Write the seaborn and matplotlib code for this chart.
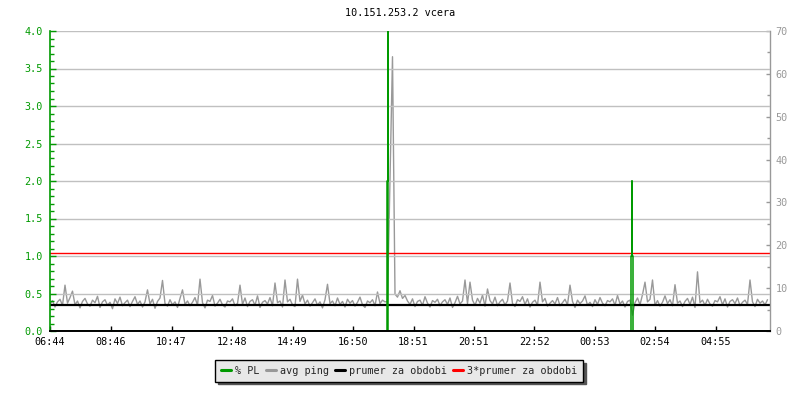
import matplotlib
matplotlib.use('Agg')
import matplotlib.pyplot as plt
import numpy as np
import pandas as pd
import seaborn as sns
from matplotlib.ticker import MultipleLocator, FixedLocator

sns.set_theme(style='white')
plt.rcParams['font.family'] = ['DejaVu Sans Mono']

# Time axis: minutes since 06:44, one ping sample every 5 minutes
tick_minutes = [0, 122, 243, 364, 485, 606, 727, 847, 968, 1089, 1210, 1331]
tick_labels = ['06:44', '08:46', '10:47', '12:48', '14:49', '16:50',
               '18:51', '20:51', '22:52', '00:53', '02:54', '04:55']

# avg ping [ms] (hour per row)
avg_ping = [
    6.2, 7.1, 5.6, 6.8, 7.4, 6.0, 10.7, 6.5, 7.8, 9.3, 6.1, 7.0,
    5.4, 6.9, 7.6, 6.3, 5.8, 7.2, 6.6, 8.1, 5.5, 6.8, 7.3, 6.0,
    6.7, 5.2, 7.5, 6.4, 7.9, 5.9, 6.6, 7.2, 5.7, 6.9, 8.0, 6.2,
    7.0, 5.6, 6.8, 9.6, 6.3, 7.4, 5.3, 6.9, 7.7, 11.8, 6.4, 5.8,
    7.3, 6.1, 6.8, 5.5, 7.6, 9.6, 6.2, 7.0, 5.9, 6.7, 7.8, 6.0,
    12.1, 6.6, 5.4, 7.2, 6.9, 8.3, 5.8, 6.5, 7.4, 6.1, 5.6, 7.0,
    6.8, 7.5, 5.9, 6.4, 10.7, 6.2, 7.7, 5.7, 6.9, 7.3, 6.0, 8.2,
    5.5, 6.7, 7.1, 6.3, 7.8, 5.9, 11.2, 6.6, 7.0, 5.6, 11.9, 6.8,
    7.4, 6.1, 5.7, 12.1, 6.9, 8.4, 6.3, 7.2, 5.8, 6.6, 7.5, 6.0,
    6.8, 5.4, 7.3, 10.9, 6.4, 7.0, 5.9, 7.7, 6.2, 6.9, 5.6, 7.4,
    6.5, 7.1, 5.8, 6.7, 7.9, 6.1, 5.5, 7.0, 6.6, 7.3, 5.9, 9.1,
    6.4, 7.2, 6.8, 6.9, 35.0, 64.0, 8.6, 7.9, 9.4, 7.6, 8.3, 7.0,
    6.2, 7.5, 5.7, 6.9, 7.2, 6.0, 8.0, 6.5, 5.6, 7.1, 6.7, 7.4,
    5.9, 6.8, 7.3, 6.2, 7.7, 5.5, 6.6, 8.1, 6.3, 7.0, 11.9, 6.4,
    11.4, 7.2, 6.0, 7.6, 6.5, 8.4, 5.8, 9.8, 7.1, 6.3, 7.9, 5.9,
    6.8, 7.4, 6.1, 7.0, 11.2, 6.4, 5.7, 7.3, 6.9, 8.0, 6.2, 7.5,
    5.6, 6.7, 7.2, 6.0, 11.4, 6.8, 7.6, 5.8, 6.5, 7.1, 6.3, 7.8,
    5.9, 6.6, 7.4, 6.1, 10.7, 6.9, 5.5, 7.2, 6.4, 7.0, 8.2, 6.0,
    6.7, 5.7, 7.3, 6.2, 7.8, 6.5, 5.9, 7.1, 6.8, 7.5, 6.0, 8.3,
    6.3, 7.0, 5.6, 6.9, 7.2, 3.7, 6.6, 7.7, 6.1, 8.5, 11.4, 6.8,
    7.4, 11.9, 6.0, 7.1, 5.8, 6.7, 8.2, 6.4, 7.3, 5.9, 10.8, 6.5,
    7.0, 5.7, 6.9, 7.6, 6.2, 7.9, 5.5, 13.8, 6.6, 7.2, 6.0, 7.4,
    6.3, 5.8, 7.1, 6.8, 8.0, 6.1, 7.5, 5.6, 6.9, 7.3, 6.4, 7.7,
    5.9, 6.7, 7.2, 6.2, 11.9, 6.8, 5.7, 7.4, 6.5, 7.0, 6.1, 7.3,
]
ping_minutes = np.arange(len(avg_ping)) * 5

# packet loss [%] - only the non-zero minutes
pl_minutes = [673, 674, 675, 676, 677, 1162, 1163, 1164, 1165, 1166, 1167]
pl_values = [0.0, 2.0, 2.0, 4.0, 0.0, 0.0, 1.0, 2.0, 1.0, 1.0, 0.0]

period_avg = 6.1  # prumer za obdobi [ms]

green = '#009a00'
grey = '#999999'

df_ping = pd.DataFrame({'min': ping_minutes, 'ping': avg_ping})
df_pl = pd.DataFrame({'min': [0] + pl_minutes + [1440],
                      'pl': [0.0] + pl_values + [0.0]})

fig, ax = plt.subplots(figsize=(8, 4), dpi=100)
fig.subplots_adjust(left=0.0625, right=0.9625, top=0.9225, bottom=0.1725)
ax2 = ax.twinx()
ax.set_zorder(2)
ax.patch.set_visible(False)
ax2.set_zorder(1)

# right axis: ping
sns.lineplot(data=df_ping, x='min', y='ping', ax=ax2, color=grey, lw=1.0,
             label='avg ping', legend=False)
ax2.axhline(period_avg, color='black', lw=1.6, label='prumer za obdobi')
ax2.axhline(3 * period_avg, color='red', lw=1.0, label='3*prumer za obdobi')
ax2.set_ylim(0, 70)
ax2.yaxis.set_major_locator(MultipleLocator(10))
ax2.yaxis.set_minor_locator(MultipleLocator(5))
ax2.tick_params(axis='y', which='both', direction='in', colors=grey,
                labelsize=7.3, pad=4)
ax2.tick_params(axis='y', which='major', length=3, width=1)
ax2.tick_params(axis='y', which='minor', length=2.5, width=1, right=True)
ax2.set_ylabel('')
for s in ['left', 'top', 'bottom']:
    ax2.spines[s].set_visible(False)
ax2.spines['right'].set_color(grey)
ax2.spines['right'].set_linewidth(1)

# left axis: packet loss
sns.lineplot(data=df_pl, x='min', y='pl', ax=ax, color=green, lw=1.1,
             drawstyle='steps-mid', label='% PL', legend=False)
ax.set_xlim(0, 1440)
ax.set_ylim(0, 4.0)
ax.yaxis.set_major_locator(MultipleLocator(0.5))
ax.yaxis.set_minor_locator(MultipleLocator(0.1))
ax.yaxis.set_major_formatter(matplotlib.ticker.FormatStrFormatter('%.1f'))
ax.grid(axis='y', which='major', color='#c0c0c0', lw=1)
ax.tick_params(axis='y', which='both', direction='in', colors=green,
               labelsize=7.3, pad=5, left=True)
ax.tick_params(axis='y', which='major', length=4, width=1)
ax.tick_params(axis='y', which='minor', length=3, width=1)
ax.xaxis.set_major_locator(FixedLocator(tick_minutes))
ax.set_xticklabels(tick_labels)
ax.tick_params(axis='x', direction='in', length=3.5, width=1, colors='black',
               labelsize=7.3, pad=4, bottom=True)
ax.set_xlabel('')
ax.set_ylabel('')
ax.spines['top'].set_visible(False)
ax.spines['right'].set_visible(False)
ax.spines['left'].set_color(green)
ax.spines['left'].set_linewidth(1.2)
ax.spines['bottom'].set_color('black')
ax.spines['bottom'].set_linewidth(1.4)

fig.text(0.5, 1 - 13 / 400, '10.151.253.2 vcera', ha='center', va='center',
         fontsize=7.3, color='black')

h1, l1 = ax.get_legend_handles_labels()
h2, l2 = ax2.get_legend_handles_labels()
handles = h1 + h2
labels = l1 + l2
leg = fig.legend(handles, labels, loc='center', bbox_to_anchor=(0.499, 1 - 371 / 400),
                 ncol=4, fontsize=7.3, frameon=True, fancybox=False,
                 shadow={'color': '#555555', 'alpha': 1.0},
                 handlelength=1.0, handletextpad=0.4, columnspacing=0.6,
                 borderpad=0.55, borderaxespad=0)
leg.get_frame().set_facecolor('#e8e8e8')
leg.get_frame().set_edgecolor('black')
leg.get_frame().set_linewidth(1.0)
for line in leg.get_lines():
    line.set_linewidth(2.2)

fig.savefig('out.png', dpi=100)
